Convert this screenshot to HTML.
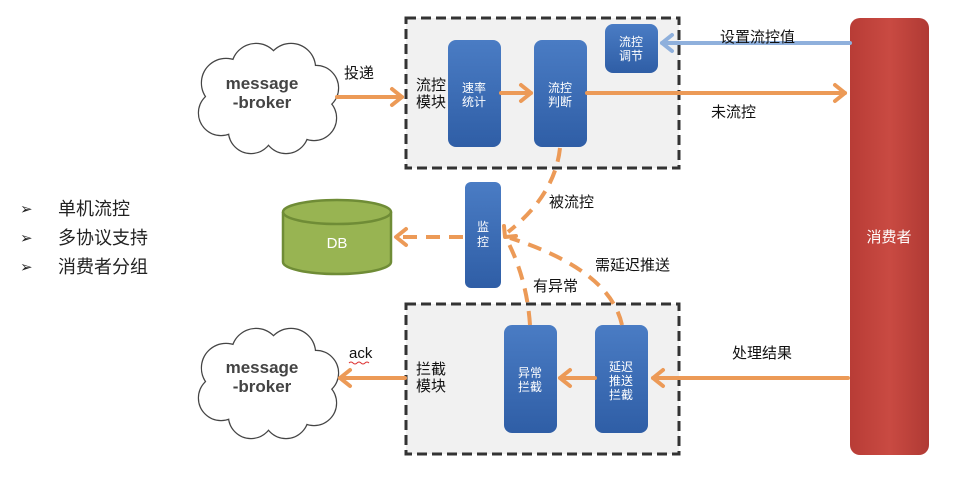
<!DOCTYPE html>
<html><head><meta charset="utf-8"><style>
body{margin:0;background:#fff}
svg{display:block}
text{font-family:"Liberation Sans","Noto Sans CJK SC",sans-serif}
</style></head><body>
<svg width="980" height="489" viewBox="0 0 980 489" xmlns="http://www.w3.org/2000/svg">
<defs>
<linearGradient id="bl" x1="0" y1="0" x2="0" y2="1"><stop offset="0" stop-color="#4a7cc4"/><stop offset="1" stop-color="#2f5ea6"/></linearGradient>
<linearGradient id="rd" x1="0" y1="0" x2="1" y2="0"><stop offset="0" stop-color="#b83c36"/><stop offset="0.5" stop-color="#c94a42"/><stop offset="1" stop-color="#b03a34"/></linearGradient>
<g id="cloud">
<g fill="#fff" stroke="#444" stroke-width="2.4">
<circle cx="30" cy="40" r="24"/><circle cx="60" cy="25" r="24"/><circle cx="95" cy="25" r="24"/><circle cx="120" cy="45" r="22"/><circle cx="118" cy="75" r="22"/><circle cx="90" cy="88" r="22"/><circle cx="55" cy="88" r="22"/><circle cx="25" cy="70" r="22"/>
</g>
<g fill="#fff">
<circle cx="30" cy="40" r="24"/><circle cx="60" cy="25" r="24"/><circle cx="95" cy="25" r="24"/><circle cx="120" cy="45" r="22"/><circle cx="118" cy="75" r="22"/><circle cx="90" cy="88" r="22"/><circle cx="55" cy="88" r="22"/><circle cx="25" cy="70" r="22"/>
<ellipse cx="72" cy="57" rx="55" ry="38"/>
</g>
</g>
</defs>

<!-- bullets -->
<g font-size="18" fill="#222">
<text x="20" y="214" font-size="15">➢</text><text x="58" y="215">单机流控</text>
<text x="20" y="243" font-size="15">➢</text><text x="58" y="244">多协议支持</text>
<text x="20" y="272" font-size="15">➢</text><text x="58" y="273">消费者分组</text>
</g>

<!-- clouds -->
<use href="#cloud" x="196" y="43"/>
<use href="#cloud" x="196" y="328"/>
<g font-size="17" font-weight="bold" fill="#444" text-anchor="middle">
<text x="262" y="89">message</text><text x="262" y="108">-broker</text>
<text x="262" y="373">message</text><text x="262" y="392">-broker</text>
</g>

<!-- dashed boxes -->
<rect x="406" y="18" width="273" height="150" fill="#f1f1f1" stroke="#333" stroke-width="3" stroke-dasharray="10,5"/>
<rect x="406" y="304" width="273" height="150" fill="#f1f1f1" stroke="#333" stroke-width="3" stroke-dasharray="10,5"/>
<g font-size="15" fill="#111">
<text x="416" y="90">流控</text><text x="416" y="107">模块</text>
<text x="416" y="374">拦截</text><text x="416" y="391">模块</text>
</g>

<!-- blue boxes -->
<g fill="url(#bl)">
<rect x="448" y="40" width="53" height="107" rx="8"/>
<rect x="534" y="40" width="53" height="107" rx="8"/>
<rect x="605" y="24" width="53" height="49" rx="8"/>
<rect x="465" y="182" width="36" height="106" rx="6"/>
<rect x="504" y="325" width="53" height="108" rx="8"/>
<rect x="595" y="325" width="53" height="108" rx="8"/>
</g>
<g font-size="12" fill="#fff" text-anchor="middle">
<text x="474" y="92">速率</text><text x="474" y="106">统计</text>
<text x="560" y="92">流控</text><text x="560" y="106">判断</text>
<text x="631" y="46">流控</text><text x="631" y="60">调节</text>
<text x="483" y="231">监</text><text x="483" y="246">控</text>
<text x="530" y="377">异常</text><text x="530" y="391">拦截</text>
<text x="621" y="371">延迟</text><text x="621" y="385">推送</text><text x="621" y="399">拦截</text>
</g>

<!-- consumer -->
<rect x="850" y="18" width="79" height="437" rx="10" fill="url(#rd)"/>
<text x="889" y="242" font-size="15" fill="#fff" text-anchor="middle">消费者</text>

<!-- DB -->
<path d="M283 212 V262 A54 12 0 0 0 391 262 V212" fill="#98b452" stroke="#6f8c36" stroke-width="2.5"/>
<ellipse cx="337" cy="212" rx="54" ry="12" fill="#98b452" stroke="#6f8c36" stroke-width="2.5"/>
<text x="337" y="248" font-size="15" fill="#fff" text-anchor="middle">DB</text>

<!-- solid arrows -->
<g stroke="#ec9a57" stroke-width="4" fill="none" stroke-linecap="round" stroke-linejoin="round">
<line x1="337" y1="97" x2="402" y2="97"/><polyline points="392,89 402,97 392,105"/>
<line x1="501" y1="93" x2="531" y2="93"/><polyline points="521,85 531,93 521,101"/>
<line x1="587" y1="93" x2="845" y2="93"/><polyline points="835,85 845,93 835,101"/>
<line x1="848" y1="378" x2="653" y2="378"/><polyline points="663,370 653,378 663,386"/>
<line x1="595" y1="378" x2="560" y2="378"/><polyline points="570,370 560,378 570,386"/>
<line x1="405" y1="378" x2="340" y2="378"/><polyline points="350,370 340,378 350,386"/>
</g>
<g stroke="#8fb0dc" stroke-width="4" fill="none" stroke-linecap="round" stroke-linejoin="round">
<line x1="850" y1="43" x2="662" y2="43"/><polyline points="672,35 662,43 672,51"/>
</g>

<!-- dashed arrows -->
<g stroke="#ec9a57" stroke-width="4" fill="none" stroke-dasharray="14,9">
<path d="M560 148 Q555 195 508 232"/>
<path d="M530 325 Q527 280 508 242"/>
<path d="M622 325 Q610 270 510 238"/>
<line x1="463" y1="237" x2="396" y2="237"/>
</g>
<g stroke="#ec9a57" stroke-width="4" fill="none" stroke-linecap="round" stroke-linejoin="round">
<polyline points="406,229 396,237 406,245"/>
<polyline points="504,226 505,237 516,236"/>
</g>

<!-- labels -->
<g font-size="15" fill="#111">
<text x="344" y="78">投递</text>
<text x="720" y="42">设置流控值</text>
<text x="711" y="117">未流控</text>
<text x="549" y="207">被流控</text>
<text x="595" y="270">需延迟推送</text>
<text x="533" y="291">有异常</text>
<text x="732" y="358">处理结果</text>
<text x="349" y="358">ack</text>
</g>
<path d="M349 363 q2 -2 4 0 t4 0 t4 0 t4 0 t4 0" stroke="#d33" stroke-width="1" fill="none"/>
</svg>
</body></html>
